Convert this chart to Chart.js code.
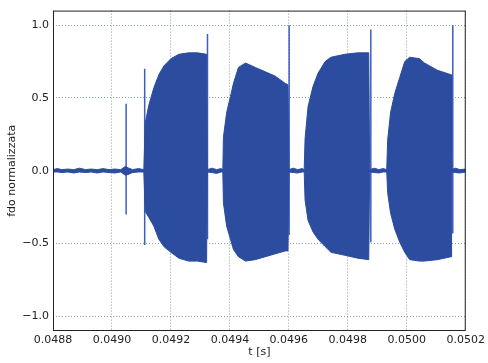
<!DOCTYPE html>
<html>
<head>
<meta charset="utf-8">
<script src="https://cdn.jsdelivr.net/npm/chart.js@4.4.1/dist/chart.umd.min.js"></script>
<style>
  html, body { margin: 0; padding: 0; background: #fff; }
</style>
</head>
<body>
<canvas id="fdoChart" width="488" height="363"></canvas>
<script>
// Envelope of the normalised signal: time [s], upper and lower bound
const envTime = [
  0.048800, 0.048815, 0.048830, 0.048850, 0.048870, 0.048890, 0.048910, 0.048930,
  0.048950, 0.048970, 0.048990, 0.049010, 0.049030, 0.049045, 0.049055, 0.049070,
  0.049090, 0.049108,
  // burst 1
  0.049113, 0.049125, 0.049142, 0.049159, 0.049176, 0.049200, 0.049227, 0.049260,
  0.049290, 0.049321,
  0.049323, 0.049340, 0.049355, 0.049370, 0.049376,
  // burst 2
  0.049378, 0.049389, 0.049402, 0.049412, 0.049429, 0.049453, 0.049486, 0.049520,
  0.049554, 0.049588, 0.049597,
  0.049600, 0.049615, 0.049630, 0.049645, 0.049652,
  // burst 3
  0.049655, 0.049665, 0.049682, 0.049699, 0.049723, 0.049743, 0.049790, 0.049834,
  0.049871,
  0.049874, 0.049890, 0.049905, 0.049920, 0.049932,
  // burst 4
  0.049935, 0.049945, 0.049959, 0.049976, 0.049993, 0.050010, 0.050043, 0.050060,
  0.050104, 0.050150,
  0.050152, 0.050165, 0.050180, 0.050200
];
const envUpper = [
  0.008, 0.015, 0.008, 0.012, 0.008, 0.018, 0.008, 0.012,
  0.008, 0.015, 0.008, 0.012, 0.008, 0.03, 0.02, 0.008,
  0.015, 0.008,
  0.33, 0.45, 0.57, 0.66, 0.72, 0.77, 0.80, 0.81,
  0.81, 0.80,
  0.008, 0.018, 0.008, 0.015, 0.008,
  0.23, 0.40, 0.51, 0.60, 0.71, 0.74, 0.71, 0.68,
  0.65, 0.60, 0.59,
  0.008, 0.018, 0.008, 0.015, 0.008,
  0.22, 0.44, 0.58, 0.67, 0.75, 0.78, 0.80, 0.81,
  0.81,
  0.008, 0.018, 0.008, 0.015, 0.008,
  0.21, 0.40, 0.53, 0.64, 0.75, 0.78, 0.77, 0.74,
  0.69, 0.66,
  0.008, 0.018, 0.008, 0.012
];
const envLower = [
  -0.008, -0.008, -0.012, -0.008, -0.015, -0.008, -0.012, -0.008,
  -0.015, -0.008, -0.012, -0.015, -0.008, -0.03, -0.025, -0.012,
  -0.008, -0.008,
  -0.28, -0.32, -0.38, -0.47, -0.52, -0.56, -0.60, -0.62,
  -0.62, -0.63,
  -0.008, -0.012, -0.018, -0.008, -0.008,
  -0.22, -0.38, -0.47, -0.54, -0.59, -0.62, -0.61, -0.59,
  -0.57, -0.55, -0.55,
  -0.008, -0.012, -0.015, -0.008, -0.008,
  -0.20, -0.34, -0.42, -0.47, -0.52, -0.56, -0.58, -0.60,
  -0.61,
  -0.008, -0.012, -0.015, -0.008, -0.008,
  -0.15, -0.29, -0.40, -0.49, -0.56, -0.61, -0.62, -0.62,
  -0.61, -0.59,
  -0.008, -0.012, -0.015, -0.008
];

// Isolated spikes (time, top, bottom)
const spikeTime = [0.049048, 0.049111, 0.049324, 0.049601, 0.049878, 0.050156];
const spikeTop = [0.46, 0.70, 0.94, 1.00, 0.97, 1.00];
const spikeBottom = [-0.30, -0.51, -0.47, -0.44, -0.49, -0.43];

const xTicks = [0.0488, 0.0490, 0.0492, 0.0494, 0.0496, 0.0498, 0.0500, 0.0502];
const yTicks = [-1.0, -0.5, 0.0, 0.5, 1.0];

const fillBlue = '#2b4c9f';
const spikeBlue = '#3a5ec2';
const gridColor = 'rgba(40, 80, 105, 0.55)';
const textColor = '#222';
const font = { family: 'DejaVu Sans', size: 11 };

const upperPts = envTime.map((t, i) => ({ x: t, y: envUpper[i] }));
const lowerPts = envTime.map((t, i) => ({ x: t, y: envLower[i] }));
const spikePts = [];
spikeTime.forEach((t, i) => {
  spikePts.push({ x: t, y: spikeTop[i] }, { x: t, y: spikeBottom[i] }, { x: t, y: null });
});

// axes box on all four sides
const frame = {
  id: 'frame',
  afterDraw(chart) {
    const { ctx, chartArea: a } = chart;
    ctx.save();
    ctx.strokeStyle = '#222';
    ctx.lineWidth = 1;
    ctx.strokeRect(a.left + 0.5, a.top + 0.5, a.width - 1, a.height - 1);
    ctx.restore();
  }
};

const fmtMinus = s => s.replace('-', '\u2212');

new Chart(document.getElementById('fdoChart').getContext('2d'), {
  type: 'line',
  data: {
    datasets: [
      { data: upperPts, borderColor: fillBlue, backgroundColor: fillBlue, borderWidth: 1, fill: false, pointRadius: 0, tension: 0 },
      { data: lowerPts, borderColor: fillBlue, backgroundColor: fillBlue, borderWidth: 1, fill: '-1', pointRadius: 0, tension: 0 },
      { data: spikePts, borderColor: spikeBlue, borderWidth: 1.5, fill: false, pointRadius: 0, spanGaps: false }
    ]
  },
  options: {
    responsive: false,
    animation: false,
    layout: { padding: { top: 10, right: 20, left: 0, bottom: 0 } },
    plugins: { legend: { display: false }, tooltip: { enabled: false } },
    scales: {
      x: {
        type: 'linear',
        min: xTicks[0],
        max: xTicks[xTicks.length - 1],
        z: 1,
        afterBuildTicks: s => { s.ticks = xTicks.map(v => ({ value: v })); },
        afterFit: s => { s.height = 32; },
        grid: { color: gridColor, lineWidth: 1, drawTicks: false },
        border: { display: false, dash: [1, 2] },
        ticks: { padding: 3, color: textColor, font, maxRotation: 0, autoSkip: false, callback: v => v.toFixed(4) },
        title: { display: true, text: 't [s]', color: textColor, font, padding: { top: 0, bottom: 4 } }
      },
      y: {
        min: -1.1,
        max: 1.1,
        z: 1,
        afterBuildTicks: s => { s.ticks = yTicks.map(v => ({ value: v })); },
        afterFit: s => { s.width = 53; },
        grid: { color: gridColor, lineWidth: 1, drawTicks: false },
        border: { display: false, dash: [1, 2] },
        ticks: { padding: 4, color: textColor, font, callback: v => fmtMinus(v.toFixed(1)) },
        title: { display: true, text: 'fdo normalizzata', color: textColor, font, padding: { top: 6, bottom: 0 } }
      }
    }
  },
  plugins: [frame]
});
</script>
</body>
</html>
